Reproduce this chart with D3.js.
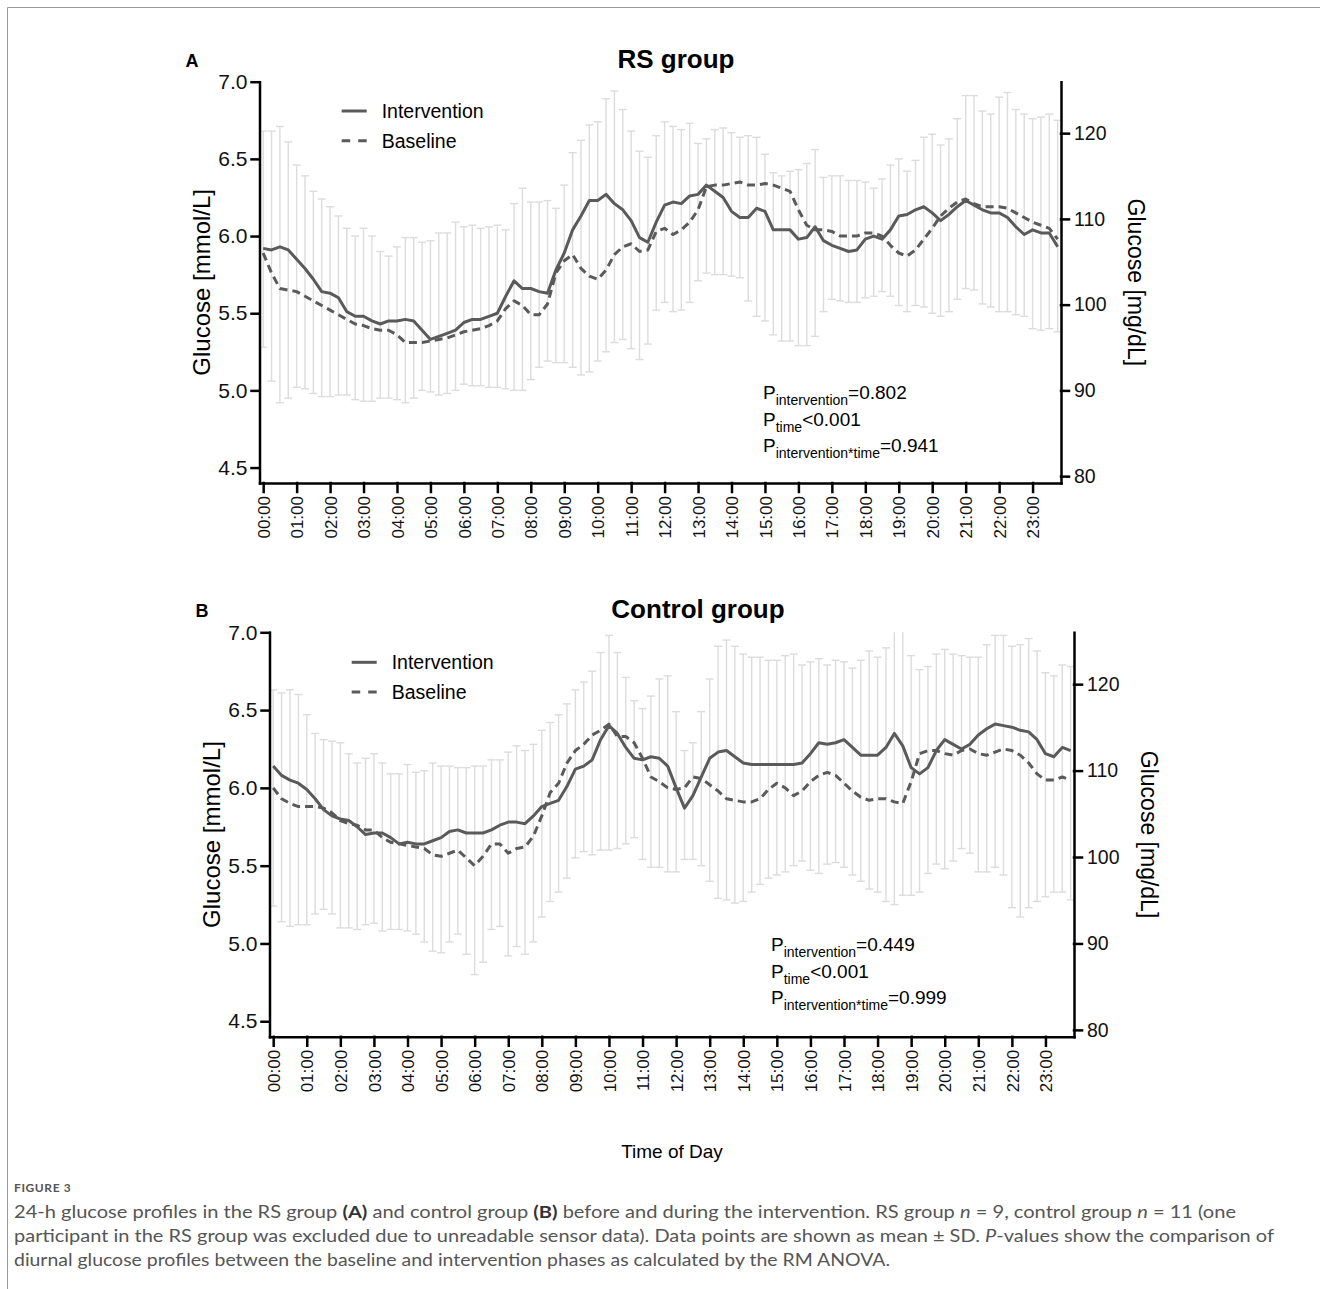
<!DOCTYPE html>
<html>
<head>
<meta charset="utf-8">
<script src="https://cdn.jsdelivr.net/npm/d3@7"></script>
<style>
  body { margin: 0; background: #fff; }
  svg { display: block; font-family: "Liberation Sans", Arial, sans-serif; }
  .axis { font-family: "Liberation Sans", Arial, sans-serif; }
  .axis path, .axis line { stroke: #000; stroke-width: 2.5; stroke-linecap: square; }
  .axis text { fill: #111; }
  .errbar { stroke: #dcdcdc; stroke-width: 1.4; fill: none; }
  .mean { fill: none; stroke: #5a5a5a; stroke-width: 3; stroke-linejoin: round; }
  .caption { font-family: Lato, "Open Sans", sans-serif; fill: #555; }
</style>
</head>
<body>
<script>
const hourLabels = ["00:00","01:00","02:00","03:00","04:00","05:00","06:00","07:00","08:00","09:00","10:00","11:00",
  "12:00","13:00","14:00","15:00","16:00","17:00","18:00","19:00","20:00","21:00","22:00","23:00"];
const mmolTicks = [4.5, 5.0, 5.5, 6.0, 6.5, 7.0];
const mgTicks = [80, 90, 100, 110, 120];

// 15-min means (mmol/L), 00:00 .. 23:45
const rsIntervention = [
  5.92, 5.91, 5.93, 5.91, 5.85, 5.79, 5.72, 5.64, 5.63, 5.60,
  5.51, 5.48, 5.48, 5.45, 5.43, 5.45, 5.45, 5.46, 5.45, 5.39,
  5.33, 5.35, 5.37, 5.39, 5.44, 5.46, 5.46, 5.48, 5.50, 5.61,
  5.71, 5.66, 5.66, 5.64, 5.63, 5.78, 5.89, 6.04, 6.13, 6.23,
  6.23, 6.27, 6.21, 6.17, 6.10, 5.99, 5.96, 6.09, 6.20, 6.22,
  6.21, 6.26, 6.27, 6.33, 6.29, 6.25, 6.16, 6.12, 6.12, 6.18,
  6.16, 6.04, 6.04, 6.04, 5.98, 5.99, 6.06, 5.97, 5.94, 5.92,
  5.90, 5.91, 5.98, 6.00, 5.98, 6.04, 6.13, 6.14, 6.17, 6.19,
  6.15, 6.10, 6.14, 6.19, 6.23, 6.20, 6.17, 6.15, 6.15, 6.12,
  6.06, 6.01, 6.04, 6.02, 6.02, 5.93];
const rsBaseline = [
  5.89, 5.76, 5.66, 5.65, 5.64, 5.61, 5.58, 5.55, 5.52, 5.49,
  5.46, 5.43, 5.42, 5.40, 5.39, 5.39, 5.36, 5.31, 5.31, 5.31,
  5.32, 5.33, 5.34, 5.36, 5.38, 5.39, 5.40, 5.42, 5.45, 5.53,
  5.58, 5.55, 5.49, 5.49, 5.56, 5.76, 5.84, 5.88, 5.79, 5.74,
  5.72, 5.78, 5.88, 5.93, 5.95, 5.90, 5.91, 6.03, 6.05, 6.01,
  6.04, 6.09, 6.17, 6.32, 6.33, 6.33, 6.34, 6.35, 6.33, 6.33,
  6.34, 6.33, 6.31, 6.29, 6.17, 6.07, 6.04, 6.04, 6.03, 6.00,
  6.00, 6.00, 6.02, 6.02, 6.00, 5.94, 5.89, 5.87, 5.91, 5.98,
  6.05, 6.13, 6.18, 6.22, 6.24, 6.21, 6.19, 6.19, 6.19, 6.18,
  6.15, 6.12, 6.09, 6.07, 6.05, 5.98];
// ends of the SD bars (mmol/L)
const rsHigh = [
  6.68, 6.68, 6.71, 6.61, 6.46, 6.39, 6.29, 6.24, 6.19, 6.13,
  6.05, 6.00, 6.05, 6.00, 5.90, 5.87, 5.93, 5.99, 5.99, 5.96,
  5.97, 6.02, 6.02, 6.09, 6.06, 6.07, 6.05, 6.06, 6.07, 6.04,
  6.21, 6.31, 6.22, 6.22, 6.23, 6.18, 6.33, 6.54, 6.62, 6.72,
  6.74, 6.89, 6.94, 6.82, 6.68, 6.55, 6.51, 6.65, 6.74, 6.71,
  6.69, 6.73, 6.60, 6.63, 6.69, 6.70, 6.67, 6.64, 6.65, 6.64,
  6.53, 6.41, 6.39, 6.42, 6.43, 6.47, 6.56, 6.38, 6.39, 6.39,
  6.36, 6.36, 6.35, 6.31, 6.37, 6.46, 6.50, 6.42, 6.49, 6.64,
  6.66, 6.59, 6.63, 6.76, 6.91, 6.91, 6.81, 6.79, 6.90, 6.93,
  6.82, 6.79, 6.76, 6.77, 6.79, 6.75];
const rsLow = [
  5.28, 5.06, 4.92, 4.95, 5.02, 5.01, 4.98, 4.96, 4.96, 4.97,
  4.97, 4.94, 4.93, 4.93, 4.95, 4.95, 4.94, 4.92, 4.95, 5.00,
  4.99, 4.97, 4.98, 5.00, 5.04, 5.03, 5.03, 5.02, 5.02, 5.01,
  5.00, 5.00, 5.07, 5.15, 5.19, 5.18, 5.18, 5.15, 5.10, 5.12,
  5.19, 5.25, 5.31, 5.33, 5.27, 5.20, 5.30, 5.52, 5.57, 5.51,
  5.52, 5.57, 5.71, 5.76, 5.75, 5.75, 5.74, 5.73, 5.58, 5.48,
  5.45, 5.36, 5.32, 5.32, 5.29, 5.29, 5.35, 5.51, 5.59, 5.58,
  5.57, 5.57, 5.60, 5.61, 5.64, 5.61, 5.55, 5.51, 5.55, 5.54,
  5.50, 5.48, 5.51, 5.59, 5.66, 5.65, 5.56, 5.54, 5.51, 5.51,
  5.49, 5.48, 5.40, 5.39, 5.40, 5.38];

const ctrlIntervention = [
  6.14, 6.08, 6.05, 6.03, 5.99, 5.93, 5.86, 5.82, 5.80, 5.79,
  5.75, 5.70, 5.71, 5.71, 5.68, 5.64, 5.65, 5.64, 5.64, 5.66,
  5.68, 5.72, 5.73, 5.71, 5.71, 5.71, 5.73, 5.76, 5.78, 5.78,
  5.77, 5.82, 5.88, 5.90, 5.92, 6.01, 6.12, 6.14, 6.18, 6.31,
  6.40, 6.35, 6.26, 6.19, 6.18, 6.20, 6.19, 6.14, 6.00, 5.87,
  5.95, 6.07, 6.19, 6.23, 6.24, 6.20, 6.16, 6.15, 6.15, 6.15,
  6.15, 6.15, 6.15, 6.16, 6.22, 6.29, 6.28, 6.29, 6.31, 6.26,
  6.21, 6.21, 6.21, 6.26, 6.35, 6.27, 6.13, 6.09, 6.13, 6.24,
  6.31, 6.28, 6.25, 6.28, 6.34, 6.38, 6.41, 6.40, 6.39, 6.37,
  6.36, 6.31, 6.22, 6.20, 6.26, 6.24];
const ctrlBaseline = [
  6.00, 5.93, 5.90, 5.88, 5.88, 5.88, 5.87, 5.84, 5.79, 5.77,
  5.76, 5.73, 5.73, 5.68, 5.65, 5.64, 5.63, 5.62, 5.61, 5.57,
  5.56, 5.58, 5.60, 5.55, 5.50, 5.56, 5.64, 5.64, 5.58, 5.61,
  5.62, 5.69, 5.82, 5.97, 6.03, 6.16, 6.24, 6.28, 6.34, 6.37,
  6.41, 6.33, 6.33, 6.29, 6.19, 6.07, 6.04, 6.00, 5.99, 6.00,
  6.07, 6.06, 6.02, 5.98, 5.93, 5.92, 5.91, 5.91, 5.93, 5.99,
  6.03, 6.00, 5.95, 5.98, 6.04, 6.08, 6.10, 6.08, 6.03, 5.98,
  5.94, 5.92, 5.93, 5.93, 5.91, 5.90, 6.04, 6.22, 6.24, 6.24,
  6.22, 6.21, 6.24, 6.25, 6.22, 6.21, 6.23, 6.25, 6.24, 6.21,
  6.16, 6.09, 6.05, 6.05, 6.07, 6.05];
const ctrlHigh = [
  6.63, 6.61, 6.63, 6.60, 6.47, 6.35, 6.31, 6.30, 6.29, 6.22,
  6.16, 6.19, 6.22, 6.16, 6.09, 6.09, 6.15, 6.10, 6.11, 6.16,
  6.14, 6.14, 6.13, 6.13, 6.14, 6.14, 6.18, 6.18, 6.23, 6.27,
  6.24, 6.28, 6.37, 6.42, 6.47, 6.54, 6.63, 6.68, 6.75, 6.87,
  6.98, 6.87, 6.71, 6.56, 6.51, 6.59, 6.70, 6.72, 6.49, 6.24,
  6.29, 6.49, 6.70, 6.91, 6.95, 6.91, 6.86, 6.84, 6.84, 6.82,
  6.82, 6.85, 6.86, 6.79, 6.81, 6.83, 6.79, 6.82, 6.81, 6.77,
  6.82, 6.88, 6.84, 6.90, 7.05, 7.05, 6.85, 6.76, 6.78, 6.86,
  6.89, 6.86, 6.85, 6.84, 6.84, 6.92, 6.98, 6.98, 6.91, 6.92,
  6.96, 6.88, 6.74, 6.72, 6.79, 6.78];
const ctrlLow = [
  5.24, 5.14, 5.11, 5.12, 5.12, 5.19, 5.22, 5.19, 5.10, 5.10,
  5.09, 5.12, 5.13, 5.08, 5.09, 5.09, 5.08, 5.06, 5.01, 4.95,
  4.94, 5.01, 5.06, 4.93, 4.80, 4.88, 5.09, 5.11, 4.92, 4.98,
  4.93, 5.01, 5.17, 5.27, 5.33, 5.42, 5.55, 5.59, 5.57, 5.60,
  5.60, 5.61, 5.64, 5.68, 5.54, 5.49, 5.49, 5.46, 5.46, 5.54,
  5.54, 5.50, 5.40, 5.29, 5.28, 5.26, 5.27, 5.33, 5.38, 5.42,
  5.44, 5.46, 5.50, 5.53, 5.47, 5.45, 5.51, 5.52, 5.49, 5.44,
  5.40, 5.35, 5.33, 5.27, 5.25, 5.31, 5.31, 5.33, 5.45, 5.51,
  5.48, 5.53, 5.61, 5.58, 5.46, 5.46, 5.49, 5.44, 5.23, 5.17,
  5.23, 5.27, 5.30, 5.33, 5.33, 5.28];

const pValuesRS = [["intervention", "=0.802"], ["time", "<0.001"], ["intervention*time", "=0.941"]];
const pValuesCtrl = [["intervention", "=0.449"], ["time", "<0.001"], ["intervention*time", "=0.999"]];
const legendLabels = ["Intervention", "Baseline"];

const times = d3.range(96).map(i => i / 4); // quarter-hour grid
const MMOL_TO_MG = 18;

const width = 1320, height = 1289;
const svg = d3.select("body").append("svg")
  .attr("width", width)
  .attr("height", height);

// frame round the figure
svg.append("path")
  .attr("d", `M${width},7.5H7.5V${height}`)
  .attr("fill", "none")
  .attr("stroke", "#9a9a9a")
  .attr("stroke-width", 1);

const panels = [
  { letter: "A", title: "RS group", titleX: 676, titleY: 68, letterY: 67,
    left: 259.5, right: 1061, top: 81.7, bottom: 483,
    int: rsIntervention, base: rsBaseline, hi: rsHigh, lo: rsLow,
    legendX: 341.7, legendY: 111, pX: 763, pY: 399, p: pValuesRS },
  { letter: "B", title: "Control group", titleX: 698, titleY: 618, letterY: 617,
    left: 269.5, right: 1074, top: 632.3, bottom: 1036.8,
    int: ctrlIntervention, base: ctrlBaseline, hi: ctrlHigh, lo: ctrlLow,
    legendX: 351.7, legendY: 662.3, pX: 771, pY: 951, p: pValuesCtrl }
];

panels.forEach(drawPanel);

function drawPanel(cfg) {
  const g = svg.append("g");

  const x = d3.scaleLinear().domain([-0.11, 23.85]).range([cfg.left, cfg.right]);
  const y = d3.scaleLinear().domain([4.4, 7.0]).range([cfg.bottom, cfg.top]);
  const yMg = d3.scaleLinear().domain([4.4 * MMOL_TO_MG, 7.0 * MMOL_TO_MG]).range([cfg.bottom, cfg.top]);
  const yMax = y.domain()[1];

  // SD bars
  const bars = g.append("g").attr("class", "errbar");
  times.forEach((t, i) => {
    const cx = x(t);
    const hi = Math.min(cfg.hi[i], yMax);
    bars.append("line")
      .attr("x1", cx).attr("x2", cx)
      .attr("y1", y(cfg.lo[i])).attr("y2", y(hi));
    bars.append("line")
      .attr("x1", cx - 4).attr("x2", cx + 4)
      .attr("y1", y(cfg.lo[i])).attr("y2", y(cfg.lo[i]));
    if (cfg.hi[i] <= yMax) {
      bars.append("line")
        .attr("x1", cx - 4).attr("x2", cx + 4)
        .attr("y1", y(hi)).attr("y2", y(hi));
    }
  });

  const line = d3.line().x((d, i) => x(times[i])).y(d => y(d));

  g.append("path")
    .datum(cfg.base)
    .attr("class", "mean")
    .attr("stroke-dasharray", "8,5")
    .attr("d", line);

  g.append("path")
    .datum(cfg.int)
    .attr("class", "mean")
    .attr("d", line);

  // axes
  const xAxis = g.append("g")
    .attr("class", "axis")
    .attr("transform", `translate(0,${cfg.bottom})`)
    .call(d3.axisBottom(x).tickValues(d3.range(24)).tickFormat(d => hourLabels[d])
      .tickSize(9).tickSizeOuter(0));
  xAxis.selectAll("text")
    .attr("transform", "rotate(-90)")
    .attr("text-anchor", "end")
    .attr("x", -13)
    .attr("y", 0)
    .attr("dy", "0.36em")
    .style("font-size", "17px");

  g.append("g")
    .attr("class", "axis")
    .attr("transform", `translate(${cfg.left},0)`)
    .call(d3.axisLeft(y).tickValues(mmolTicks).tickFormat(d3.format(".1f"))
      .tickSize(8).tickSizeOuter(0).tickPadding(4))
    .selectAll("text").style("font-size", "21px");

  g.append("g")
    .attr("class", "axis")
    .attr("transform", `translate(${cfg.right},0)`)
    .call(d3.axisRight(yMg).tickValues(mgTicks).tickFormat(d3.format("d"))
      .tickSize(8).tickSizeOuter(0).tickPadding(5))
    .selectAll("text").style("font-size", "19.5px");

  // axis titles
  const midY = (cfg.top + cfg.bottom) / 2;
  g.append("text")
    .attr("transform", `translate(${cfg.left - 50},${midY}) rotate(-90)`)
    .attr("text-anchor", "middle")
    .style("font-size", "24px")
    .text("Glucose [mmol/L]");
  g.append("text")
    .attr("transform", `translate(${cfg.right + 67},${midY}) rotate(90)`)
    .attr("text-anchor", "middle")
    .style("font-size", "23px")
    .text("Glucose [mg/dL]");

  // title + panel letter
  g.append("text")
    .attr("x", cfg.titleX).attr("y", cfg.titleY)
    .attr("text-anchor", "middle")
    .style("font-size", "26px").style("font-weight", "bold")
    .text(cfg.title);
  g.append("text")
    .attr("x", cfg.left - 74).attr("y", cfg.letterY)
    .style("font-size", "18px").style("font-weight", "bold")
    .text(cfg.letter);

  // legend
  legendLabels.forEach((label, k) => {
    const ly = cfg.legendY + k * 29.7;
    g.append("line")
      .attr("class", "mean")
      .attr("x1", cfg.legendX).attr("x2", cfg.legendX + 25)
      .attr("y1", ly).attr("y2", ly)
      .attr("stroke-dasharray", k === 1 ? "8.5,8" : null);
    g.append("text")
      .attr("x", cfg.legendX + 40).attr("y", ly)
      .attr("dy", "0.36em")
      .style("font-size", "19.5px")
      .text(label);
  });

  // p-values
  cfg.p.forEach((pv, k) => {
    const t = g.append("text")
      .attr("x", cfg.pX).attr("y", cfg.pY + k * 26.5)
      .style("font-size", "19px");
    t.append("tspan").text("P");
    t.append("tspan").attr("dy", 6).style("font-size", "14px").text(pv[0]);
    t.append("tspan").attr("dy", -6).text(pv[1]);
  });
}

// shared x title
svg.append("text")
  .attr("x", 672).attr("y", 1158)
  .attr("text-anchor", "middle")
  .style("font-size", "19px")
  .text("Time of Day");

// caption
svg.append("text")
  .attr("class", "caption")
  .attr("x", 14).attr("y", 1192)
  .style("font-size", "12px")
  .style("font-weight", "bold")
  .style("letter-spacing", "0.6px")
  .attr("fill", "#777")
  .text("FIGURE 3");

const capLines = [
  [["24-h glucose profiles in the RS group ", ""], ["(A)", "b"], [" and control group ", ""], ["(B)", "b"],
   [" before and during the intervention. RS group ", ""], ["n", "i"], [" = 9, control group ", ""], ["n", "i"], [" = 11 (one", ""]],
  [["participant in the RS group was excluded due to unreadable sensor data). Data points are shown as mean \u00b1 SD. ", ""],
   ["P", "i"], ["-values show the comparison of", ""]],
  [["diurnal glucose profiles between the baseline and intervention phases as calculated by the RM ANOVA.", ""]]
];
const capWidths = [1222, 1260, 876];

capLines.forEach((parts, k) => {
  const t = svg.append("text")
    .attr("class", "caption")
    .attr("x", 14).attr("y", 1218 + k * 24)
    .attr("textLength", capWidths[k])
    .attr("lengthAdjust", "spacingAndGlyphs")
    .style("font-size", "17px");
  parts.forEach(([s, f]) => {
    t.append("tspan")
      .style("font-weight", f === "b" ? "bold" : null)
      .style("font-style", f === "i" ? "italic" : null)
      .attr("fill", f === "b" ? "#333" : null)
      .text(s);
  });
});
</script>
</body>
</html>
